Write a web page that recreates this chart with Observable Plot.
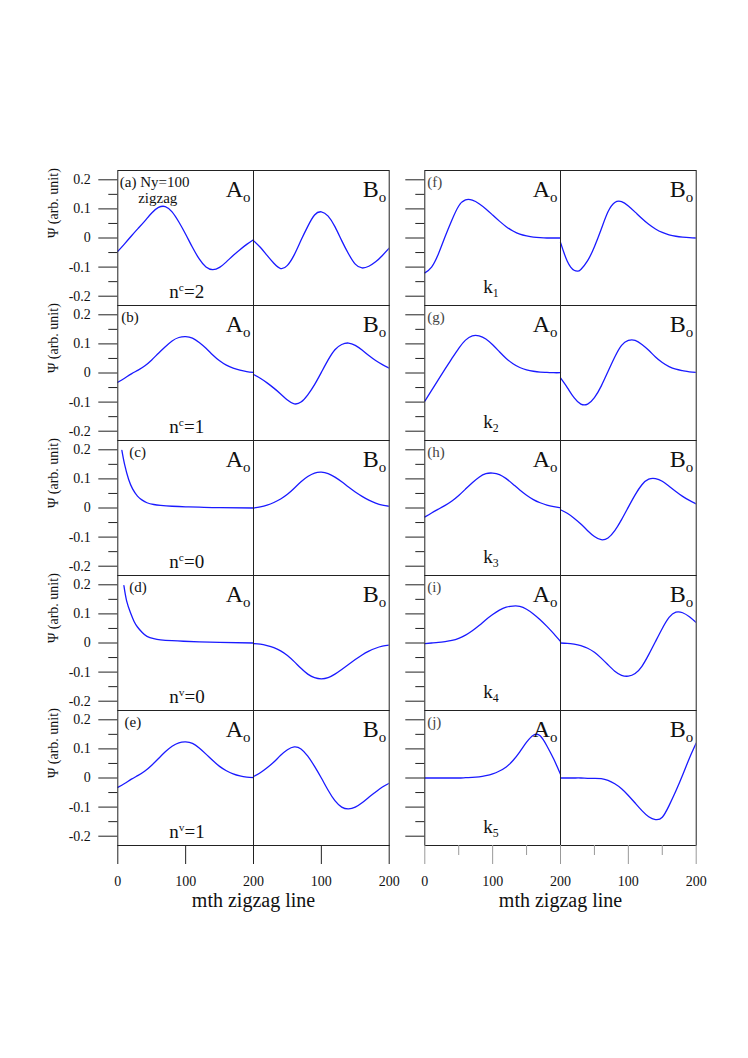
<!DOCTYPE html>
<html><head><meta charset="utf-8">
<script src="https://cdn.jsdelivr.net/npm/d3@7"></script>
<script src="https://cdn.jsdelivr.net/npm/@observablehq/plot@0.6"></script>
<style>
body{margin:0;background:#fff;}
#wrap{width:748px;height:1058px;display:flex;align-items:flex-start;background:#fff;}
#wrap svg{overflow:visible;font-family:'Liberation Serif','Times New Roman',serif;}
#wrap svg text{font-family:'Liberation Serif','Times New Roman',serif;}
</style></head><body><div id="wrap"></div>
<script>
// ---------- data ----------
const M = [0,10,20,30,40,50,60,70,80,90,100,110,120,130,140,150,160,170,180,190,200];

const aA = [-0.046,-0.020,0.007,0.033,0.059,0.086,0.105,0.108,0.090,0.055,0.013,-0.032,-0.072,-0.100,-0.109,-0.101,-0.082,-0.060,-0.040,-0.022,-0.006];
const aB = [-0.009,-0.032,-0.060,-0.087,-0.105,-0.094,-0.058,-0.008,0.040,0.079,0.090,0.075,0.039,-0.009,-0.054,-0.090,-0.103,-0.097,-0.082,-0.060,-0.035];
const bA = [-0.032,-0.018,-0.003,0.010,0.025,0.045,0.068,0.090,0.110,0.122,0.125,0.120,0.105,0.085,0.062,0.042,0.027,0.017,0.010,0.005,0.002];
const bB = [-0.005,-0.018,-0.034,-0.052,-0.072,-0.093,-0.106,-0.100,-0.075,-0.040,0.002,0.045,0.080,0.098,0.103,0.095,0.079,0.060,0.043,0.029,0.017];
const cAm = [6,10,16,22,29,36,43,53,63,80,100,120,150,200];
const cA = [0.198,0.150,0.098,0.065,0.041,0.027,0.018,0.012,0.009,0.006,0.004,0.003,0.001,0.000];
const cB = [0.000,0.004,0.010,0.019,0.031,0.047,0.068,0.090,0.108,0.120,0.123,0.118,0.106,0.090,0.072,0.055,0.040,0.027,0.017,0.010,0.006];
const dAm = [9,13,19,24,29,36,43,53,63,80,97,120,150,200];
const dA = [0.197,0.145,0.102,0.074,0.055,0.036,0.023,0.015,0.011,0.008,0.006,0.004,0.002,0.000];
const dB = [-0.002,-0.004,-0.009,-0.016,-0.027,-0.043,-0.064,-0.087,-0.107,-0.119,-0.123,-0.119,-0.107,-0.091,-0.074,-0.057,-0.041,-0.028,-0.018,-0.011,-0.007];
const eA = [-0.032,-0.019,-0.004,0.009,0.024,0.044,0.067,0.090,0.109,0.121,0.124,0.119,0.103,0.082,0.060,0.040,0.025,0.014,0.007,0.003,0.001];
const eB = [0.005,0.018,0.035,0.055,0.078,0.097,0.107,0.100,0.075,0.040,0.000,-0.042,-0.078,-0.100,-0.106,-0.100,-0.085,-0.066,-0.048,-0.031,-0.018];

const fA = [-0.120,-0.100,-0.055,0.005,0.062,0.110,0.131,0.130,0.118,0.100,0.079,0.058,0.039,0.024,0.013,0.007,0.003,0.001,0.000,0.000,0.000];
const fBm = [0,5,10,15,20,25,30,40,50,60,70,80,90,100,110,120,130,140,150,160,170,180,190,200];
const fB = [-0.015,-0.050,-0.080,-0.100,-0.111,-0.114,-0.108,-0.078,-0.030,0.030,0.090,0.122,0.125,0.110,0.089,0.067,0.047,0.031,0.019,0.011,0.006,0.003,0.001,0.000];
const gA = [-0.097,-0.060,-0.023,0.014,0.050,0.085,0.113,0.128,0.128,0.117,0.097,0.073,0.050,0.032,0.019,0.011,0.006,0.003,0.002,0.001,0.001];
const gB = [-0.017,-0.050,-0.085,-0.107,-0.107,-0.085,-0.045,0.005,0.055,0.095,0.112,0.112,0.098,0.078,0.055,0.036,0.022,0.013,0.008,0.004,0.002];
const hA = [-0.031,-0.017,-0.004,0.009,0.024,0.043,0.065,0.087,0.106,0.118,0.120,0.115,0.101,0.082,0.062,0.044,0.029,0.018,0.010,0.005,0.001];
const hB = [-0.006,-0.018,-0.035,-0.055,-0.078,-0.098,-0.109,-0.103,-0.078,-0.040,0.003,0.045,0.080,0.099,0.101,0.092,0.075,0.057,0.040,0.026,0.014];
const iA = [-0.002,0.000,0.002,0.005,0.009,0.016,0.027,0.042,0.060,0.080,0.098,0.113,0.123,0.127,0.126,0.116,0.100,0.080,0.057,0.032,0.005];
const iB = [0.000,-0.001,-0.004,-0.009,-0.018,-0.032,-0.052,-0.075,-0.097,-0.111,-0.114,-0.105,-0.080,-0.040,0.005,0.050,0.088,0.106,0.104,0.090,0.070];
const jA = [0,0,0,0,0,0,0.001,0.002,0.004,0.008,0.014,0.024,0.038,0.060,0.090,0.123,0.147,0.145,0.110,0.065,0.013];
const jB = [0,0,0,0,-0.001,-0.001,-0.002,-0.008,-0.020,-0.037,-0.060,-0.086,-0.112,-0.133,-0.143,-0.135,-0.095,-0.045,0.010,0.068,0.120];

const leftPanels = ["a","b","c","d","e"];
const rightPanels = ["f","g","h","i","j"];
const leftTags = ["(a) Ny=100","(b)","(c)","(d)","(e)"];
const leftTagX = [3,5,17,17,10];
const rightTags = ["(f)","(g)","(h)","(i)","(j)"];
const leftStates = ["n^c=2","n^c=1","n^c=0","n^v=0","n^v=1"];
const rightStates = ["k_1","k_2","k_3","k_4","k_5"];
const yTicks = [-0.2,-0.1,0,0.1,0.2];
const yMinor = [-0.15,-0.05,0.05,0.15];
const xTicks = [0,100,200,300,400];
const xMinor = [50,150,250,350];
const xTitle = "mth zigzag line";
const yTitle = "Ψ (arb. unit)";

const leftCurves = {
  a: {A: [M, aA], B: [M, aB]}, b: {A: [M, bA], B: [M, bB]}, c: {A: [cAm, cA], B: [M, cB]},
  d: {A: [dAm, dA], B: [M, dB]}, e: {A: [M, eA], B: [M, eB]}
};
const rightCurves = {
  f: {A: [M, fA], B: [fBm, fB]}, g: {A: [M, gA], B: [M, gB]}, h: {A: [M, hA], B: [M, hB]},
  i: {A: [M, iA], B: [M, iB]}, j: {A: [M, jA], B: [M, jB]}
};

// ---------- drawing ----------
const FONT = "'Liberation Serif', 'Times New Roman', serif";
const BLUE = "#1a1aff";

function rows(panels, curves) {
  const out = [];
  for (const p of panels) for (const half of ["A", "B"]) {
    const [ms, vs] = curves[p][half];
    ms.forEach((m, k) => out.push({panel: p, series: p + half, x: (half === "B" ? 200 : 0) + m, y: vs[k]}));
  }
  return out;
}

// turn "A_o" / "n^c=2" into real sub/superscript tspans
function richify(svg) {
  svg.querySelectorAll("text").forEach(t => {
    const s = t.textContent;
    if (!/[_^]/.test(s) || t.children.length) return;
    const g = t.closest("[font-size]");
    const size = g ? parseFloat(g.getAttribute("font-size")) : 16;
    const parts = s.match(/[_^].|[^_^]+/g);
    t.textContent = "";
    let shift = 0;
    for (const p of parts) {
      const ts = document.createElementNS("http://www.w3.org/2000/svg", "tspan");
      let target = 0;
      if (p[0] === "_") { target = 0.22 * size; ts.setAttribute("font-size", (0.62 * size).toFixed(1)); ts.textContent = p.slice(1); }
      else if (p[0] === "^") { target = -0.34 * size; ts.setAttribute("font-size", (0.6 * size).toFixed(1)); ts.textContent = p.slice(1); }
      else ts.textContent = p;
      if (target - shift !== 0) ts.setAttribute("dy", (target - shift).toFixed(1));
      shift = target;
      t.appendChild(ts);
    }
  });
}

function column({panels, curves, tags, tagX, tagFill, states, stateX, stateDy, width, marginLeft, marginRight, withLabels, xStroke, minorX}) {
  const data = rows(panels, curves);
  const marks = [
    Plot.line(data, {x: "x", y: "y", z: "series", fy: "panel", stroke: BLUE, strokeWidth: 1.3, curve: "natural", clip: true}),
    Plot.frame({stroke: "#222", strokeWidth: 1}),
    Plot.ruleX([200], {stroke: "#222", strokeWidth: 1}),
    Plot.axisY(yTicks, {facetAnchor: "left", tickSize: 19, tickPadding: 8, label: null, stroke: "#222",
      fill: withLabels ? "#111" : "none", fontSize: 14, tickFormat: d => d === 0 ? "0" : d.toFixed(1)}),
    Plot.axisY(yMinor, {facetAnchor: "left", tickSize: 9, label: null, stroke: "#222", fill: "none"}),
    Plot.axisX(xTicks, {facetAnchor: "bottom", tickSize: 19, tickPadding: 12, label: null, stroke: xStroke, fill: "#111",
      fontSize: 14, tickFormat: d => String(d > 200 ? d - 200 : d)}),
    Plot.text([xTitle], {fy: [panels[panels.length - 1]], x: 200, frameAnchor: "bottom", lineAnchor: "bottom", dy: 61, fontSize: 20, fill: "#111"}),
    Plot.text(["A_o"], {x: 200, frameAnchor: "top", textAnchor: "end", lineAnchor: "bottom", dx: -3, dy: 26, fontSize: 24, fill: "#111"}),
    Plot.text(["B_o"], {x: 400, frameAnchor: "top", textAnchor: "end", lineAnchor: "bottom", dx: -3, dy: 26, fontSize: 24, fill: "#111"}),
    Plot.text(tags, {fy: panels, x: tagX, frameAnchor: "top", textAnchor: "start", lineAnchor: "bottom", dy: 16, fontSize: 15, fill: tagFill}),
    Plot.text(states, {fy: panels, x: stateX, frameAnchor: "bottom", textAnchor: "start", lineAnchor: "bottom", dy: stateDy, fontSize: 19, fill: "#111"})
  ];
  if (minorX) marks.push(Plot.axisX(xMinor, {facetAnchor: "bottom", tickSize: 10, label: null, stroke: xStroke, fill: "none"}));
  if (withLabels) {
    marks.push(Plot.text([yTitle], {frameAnchor: "left", dx: -64, rotate: -90, fontSize: 14, fill: "#111"}));
    marks.push(Plot.text(["zigzag"], {fy: [panels[0]], x: 30, frameAnchor: "top", textAnchor: "start", lineAnchor: "bottom", dy: 32, fontSize: 15, fill: "#111"}));
  }
  const svg = Plot.plot({
    width, height: 930,
    marginTop: 169.5, marginBottom: 84, marginLeft, marginRight,
    style: {fontFamily: FONT, background: "transparent", overflow: "visible"},
    x: {domain: [0, 400]},
    y: {domain: [-0.232, 0.232]},
    fy: {domain: panels, padding: 0, axis: null},
    marks
  });
  richify(svg);
  return svg;
}

const wrap = document.getElementById("wrap");
wrap.appendChild(column({
  panels: leftPanels, curves: leftCurves, tags: leftTags, tagX: leftTagX, tagFill: "#111",
  states: leftStates, stateX: 76, stateDy: -8,
  width: 400, marginLeft: 117.3, marginRight: 11.3, withLabels: true, xStroke: "#222", minorX: false
}));
wrap.appendChild(column({
  panels: rightPanels, curves: rightCurves, tags: rightTags, tagX: 3.5, tagFill: "#444",
  states: rightStates, stateX: 86, stateDy: -13,
  width: 348, marginLeft: 24.3, marginRight: 52.3, withLabels: false, xStroke: "#999", minorX: true
}));
</script></body></html>
